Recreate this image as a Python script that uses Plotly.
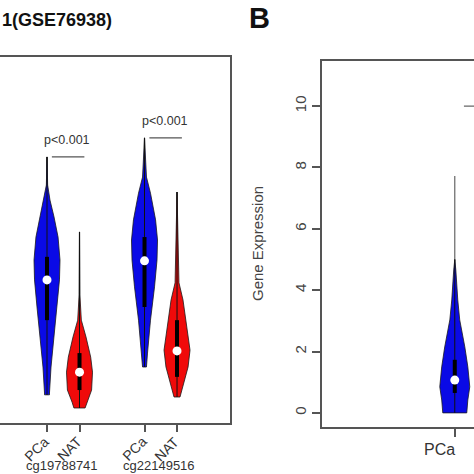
import plotly.graph_objects as go

# ---------------- data ----------------
left_title = "1(GSE76938)"
right_tag = "B"
left_groups = ["cg19788741", "cg22149516"]
left_cats = ["PCa", "NAT", "PCa", "NAT"]
left_colors = ["#0a0ae6", "#f00a0a", "#0a0ae6", "#f00a0a"]

# density profiles (value level, relative density)
pca1_levels = [0.727, 0.650, 0.609, 0.563, 0.508, 0.445, 0.391, 0.317, 0.246, 0.153, 0.082, 0.077]
pca1_density = [0.0, 0.05, 0.23, 0.54, 0.85, 1.0, 0.96, 0.77, 0.54, 0.31, 0.19, 0.19]
nat1_levels = [0.522, 0.350, 0.281, 0.235, 0.180, 0.139, 0.090, 0.057, 0.041]
nat1_density = [0.0, 0.03, 0.14, 0.50, 0.86, 1.0, 0.93, 0.57, 0.43]
pca2_levels = [0.779, 0.672, 0.628, 0.555, 0.500, 0.445, 0.372, 0.281, 0.191, 0.153]
pca2_density = [0.0, 0.15, 0.46, 0.85, 1.0, 0.96, 0.77, 0.46, 0.23, 0.15]
nat2_levels = [0.631, 0.383, 0.336, 0.262, 0.199, 0.153, 0.109, 0.071]
nat2_density = [0.0, 0.15, 0.46, 0.77, 1.0, 0.85, 0.54, 0.23]

left_max = [0.727, 0.522, 0.779, 0.631]
left_min = [0.077, 0.041, 0.153, 0.071]
left_q3 = [0.454, 0.191, 0.508, 0.281]
left_q1 = [0.281, 0.090, 0.317, 0.126]
left_median = [0.391, 0.139, 0.443, 0.197]
p_labels = ["p<0.001", "p<0.001"]

right_cats = ["PCa"]
gene_levels = [5.0, 4.66, 3.68, 3.03, 2.15, 1.50, 0.85, 0.42, 0.0]
gene_density = [0.0, 0.07, 0.2, 0.33, 0.67, 0.87, 1.0, 0.87, 0.8]
gene_max = 7.72
gene_min = 0.0
gene_q3 = 1.73
gene_q1 = 0.65
gene_median = 1.07
right_bracket_level = 10
right_yticks = [0, 2, 4, 6, 8, 10]
right_ylabel = "Gene Expression"

# ---------------- figure ----------------
FONT = "Arial, Liberation Sans, sans-serif"
fig = go.Figure()

left_pos = [1, 2, 4, 5]
left_profiles = [(pca1_levels, pca1_density), (nat1_levels, nat1_density),
                 (pca2_levels, pca2_density), (nat2_levels, nat2_density)]
LW = 0.40


def violin(fig, pos, levels, dens, hw, color, xa, ya, vmin, vmax, q1, q3, med, wcol="#111"):
    xs = [pos + hw * d for d in dens] + [pos - hw * d for d in reversed(dens)]
    ys = list(levels) + list(reversed(levels))
    fig.add_trace(go.Scatter(x=[pos, pos], y=[vmin, vmax], mode="lines",
                             line=dict(color=wcol, width=1.2), xaxis=xa, yaxis=ya,
                             hoverinfo="skip", showlegend=False))
    fig.add_trace(go.Scatter(x=xs, y=ys, fill="toself", fillcolor=color, mode="lines",
                             line=dict(color="#1a1a1a", width=0.8), xaxis=xa, yaxis=ya,
                             hoverinfo="skip", showlegend=False))
    fig.add_trace(go.Scatter(x=[pos, pos], y=[vmin, levels[0]], mode="lines",
                             line=dict(color="#111", width=1.0), xaxis=xa, yaxis=ya,
                             hoverinfo="skip", showlegend=False))
    fig.add_trace(go.Scatter(x=[pos, pos], y=[q1, q3], mode="lines",
                             line=dict(color="#000", width=4), xaxis=xa, yaxis=ya,
                             hoverinfo="skip", showlegend=False))
    fig.add_trace(go.Scatter(x=[pos], y=[med], mode="markers",
                             marker=dict(color="white", size=9, line=dict(width=0)),
                             xaxis=xa, yaxis=ya, hoverinfo="skip", showlegend=False))


for i, (lv, dn) in enumerate(left_profiles):
    violin(fig, left_pos[i], lv, dn, LW, left_colors[i], "x", "y",
           left_min[i], left_max[i], left_q1[i], left_q3[i], left_median[i])
    # rotated category label
    fig.add_annotation(x=left_pos[i] - 0.32, y=1 - 449 / 474, xref="x", yref="paper",
                       xanchor="center", yanchor="middle", textangle=-45,
                       text=left_cats[i], showarrow=False, borderpad=0,
                       font=dict(family=FONT, size=14, color="#333"))

# p-value brackets
for g in range(2):
    a, b = left_pos[2 * g], left_pos[2 * g + 1]
    yb = left_max[2 * g]
    fig.add_trace(go.Scatter(x=[a + 0.15, b + 0.15], y=[yb, yb], mode="lines",
                             line=dict(color="#555", width=1.2), xaxis="x", yaxis="y",
                             hoverinfo="skip", showlegend=False))
    fig.add_annotation(x=(a + b) / 2 + 0.13, y=yb + 0.045, xref="x", yref="y",
                       xanchor="center", yanchor="middle",
                       text=p_labels[g], showarrow=False,
                       font=dict(family=FONT, size=12.5, color="#333"))
    fig.add_annotation(x=(a + b) / 2 - 0.05, y=1 - 465 / 474, xref="x", yref="paper",
                       xanchor="center", yanchor="middle",
                       text=left_groups[g], showarrow=False, borderpad=0,
                       font=dict(family=FONT, size=13, color="#333"))

# right panel
violin(fig, 1, gene_levels, gene_density, 0.0655, "#0a0ae6", "x2", "y2",
       gene_min, gene_max, gene_q1, gene_q3, gene_median, wcol="#666")
fig.add_trace(go.Scatter(x=[1.04, 1.6], y=[right_bracket_level, right_bracket_level], mode="lines",
                         line=dict(color="#666", width=1.2), xaxis="x2", yaxis="y2",
                         hoverinfo="skip", showlegend=False))
fig.add_annotation(x=0.935, y=1 - 449 / 474, xref="x2", yref="paper",
                   xanchor="center", yanchor="middle",
                   text=right_cats[0], showarrow=False,
                   font=dict(family=FONT, size=16, color="#333"))

axcol = "#555"
fig.update_layout(
    template="none",
    width=474, height=474,
    margin=dict(l=0, r=0, t=0, b=0),
    paper_bgcolor="white", plot_bgcolor="white",
    showlegend=False,
    xaxis=dict(domain=[0, 230 / 474], range=[-0.446, 6.63], tickvals=left_pos, showticklabels=False,
               ticks="outside", ticklen=7, tickcolor=axcol, tickwidth=1.5,
               showline=True, mirror=True, linecolor=axcol, linewidth=1.5,
               showgrid=False, zeroline=False, automargin=False, anchor="y"),
    yaxis=dict(domain=[1 - 423 / 474, 1 - 57 / 474], range=[0, 1], side="right",
               showline=True, linecolor=axcol, linewidth=1.5, showticklabels=False,
               ticks="", showgrid=False, zeroline=False, automargin=False, anchor="x"),
    xaxis2=dict(domain=[322 / 474, 1], range=[0.42, 1.084], tickvals=[1], showticklabels=False,
                ticks="outside", ticklen=8, tickcolor=axcol, tickwidth=1.5,
                showline=True, mirror=True, linecolor=axcol, linewidth=1.5,
                showgrid=False, zeroline=False, automargin=False, anchor="y2"),
    yaxis2=dict(domain=[1 - 427 / 474, 1 - 61 / 474], range=[-0.46, 11.47], tickvals=right_yticks,
                tickangle=-90, ticks="outside", ticklen=8, tickcolor=axcol, tickwidth=1.5,
                showline=True, linecolor=axcol, linewidth=1.5,
                showgrid=False, zeroline=False, automargin=False,
                tickfont=dict(family=FONT, size=15, color="#444"), anchor="x2"),
)

fig.add_annotation(x=0, y=1 - 20 / 474, xref="paper", yref="paper",
                   xanchor="left", yanchor="middle",
                   text="<b>" + left_title + "</b>", showarrow=False,
                   font=dict(family=FONT, size=18, color="#111"))
fig.add_annotation(x=247 / 474, y=1 - 18 / 474, xref="paper", yref="paper",
                   xanchor="left", yanchor="middle",
                   text="<b>" + right_tag + "</b>", showarrow=False,
                   font=dict(family=FONT, size=29, color="#111"))
fig.add_annotation(x=257 / 474, y=1 - 244 / 474, xref="paper", yref="paper",
                   xanchor="center", yanchor="middle",
                   text=right_ylabel, textangle=-90, showarrow=False,
                   font=dict(family=FONT, size=15, color="#444"))

fig.write_html("out.html", config={"displayModeBar": False},
               post_script="document.body.style.margin='0';document.body.style.padding='0';"
                           "document.body.style.overflow='hidden';")
